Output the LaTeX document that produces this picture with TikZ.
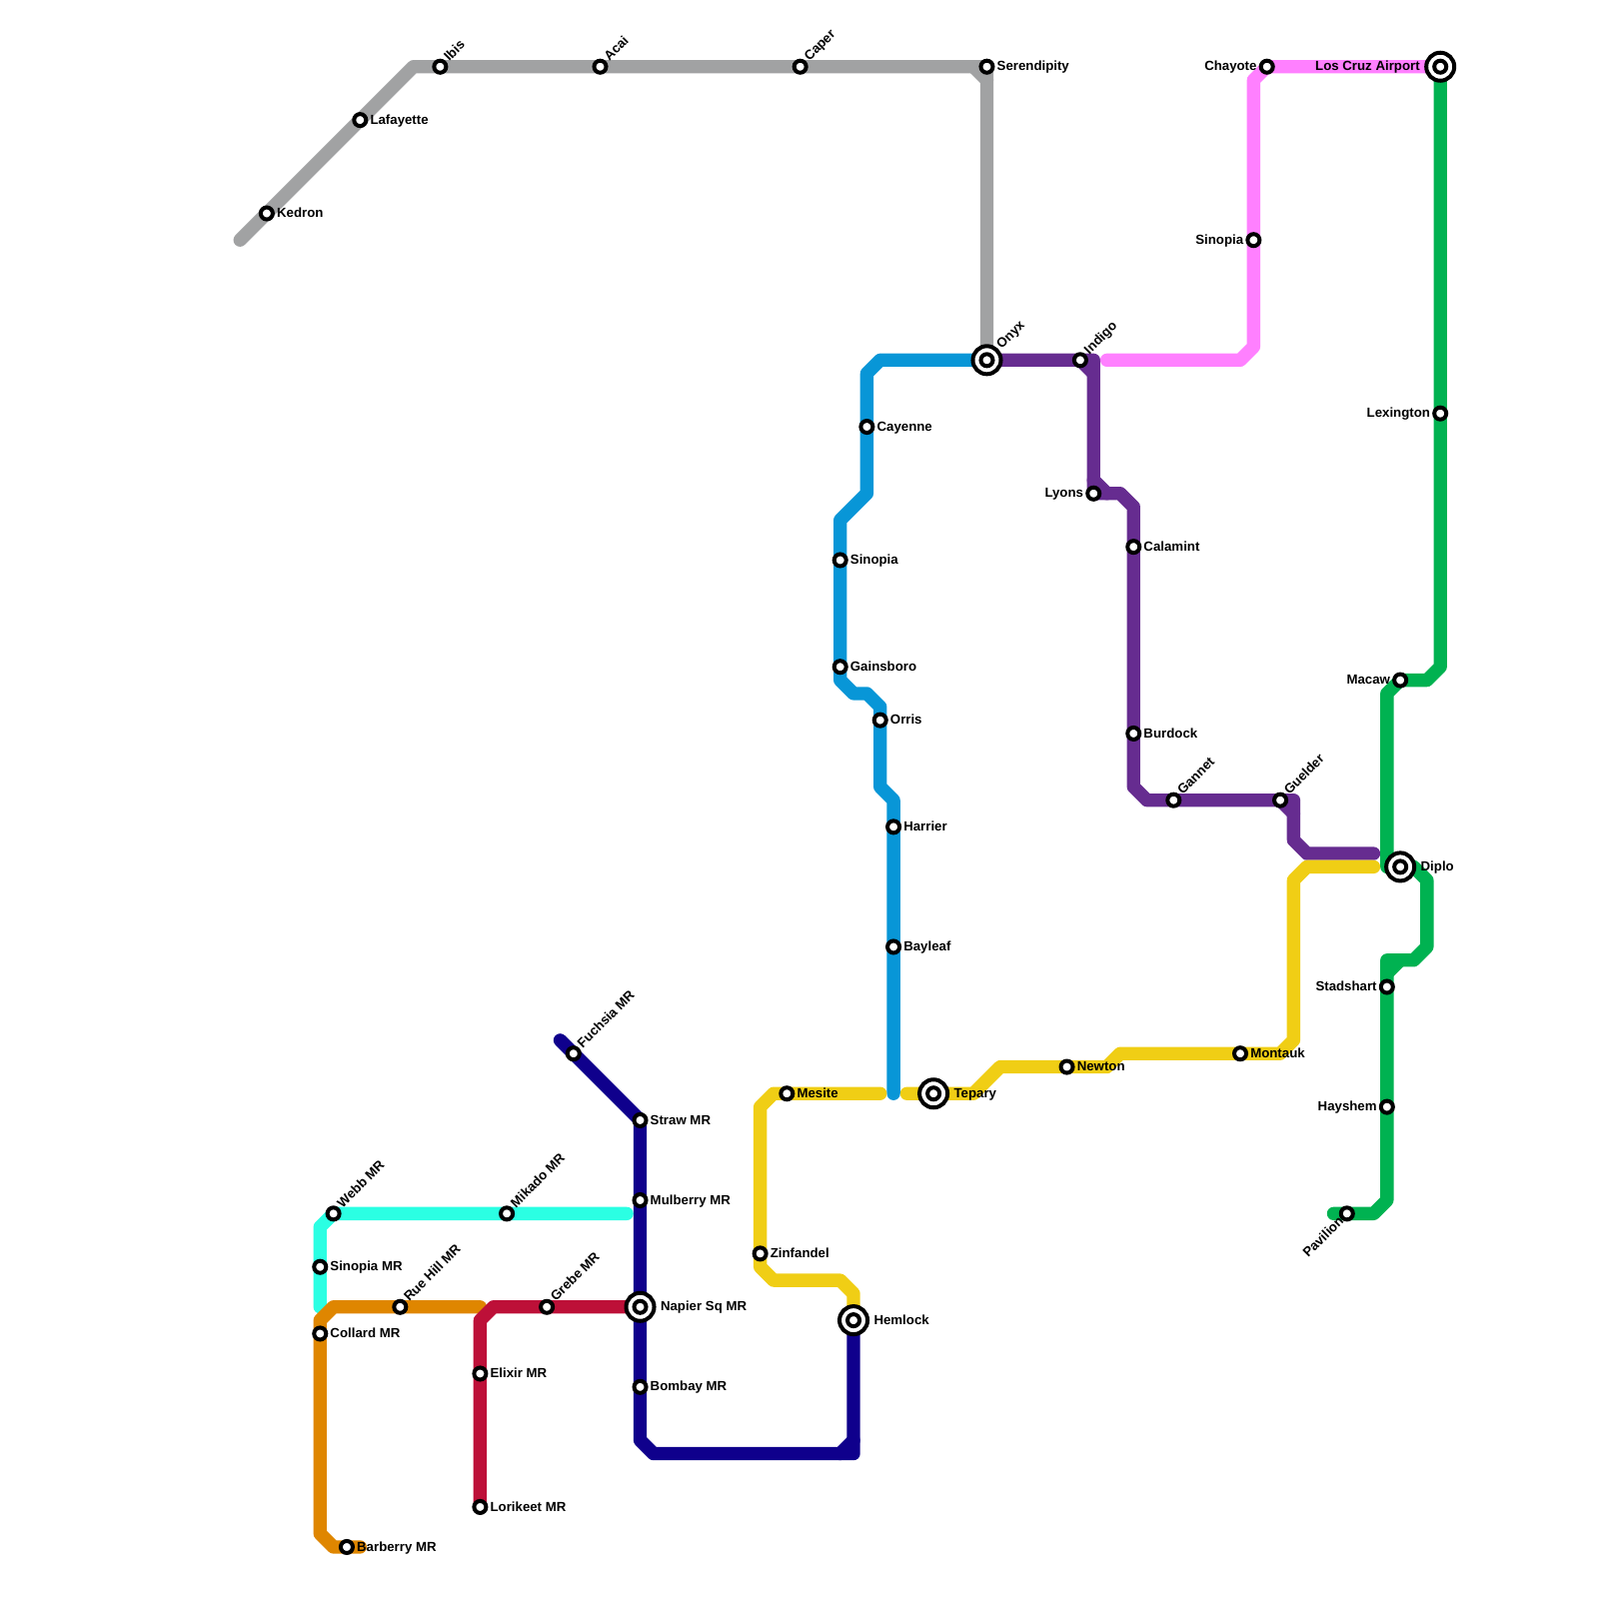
\documentclass[tikz,border=0pt]{standalone}
\usepackage{fontspec}
\setmainfont{Liberation Sans}
\usetikzlibrary{positioning}
\pgfdeclarelayer{lines}
\pgfsetlayers{lines,main}
\definecolor{greyline}{HTML}{A1A2A3}
\definecolor{blueline}{HTML}{0896D7}
\definecolor{purpleline}{HTML}{662C90}
\definecolor{pinkline}{HTML}{FF80FF}
\definecolor{greenline}{HTML}{00B251}
\definecolor{yellowline}{HTML}{F0CE15}
\definecolor{indigoline}{HTML}{0F008C}
\definecolor{cyanline}{HTML}{2BFFE3}
\definecolor{orangeline}{HTML}{DF8600}
\definecolor{redline}{HTML}{BD1038}

\begin{document}
\begin{tikzpicture}[x=2mm,y=-2mm,
    route/.style={line width=2mm,line cap=round,line join=round},
    station/.style={circle,draw=black,fill=white,line width=0.6mm,inner sep=0pt,minimum size=1.8mm},
    hub/.style={circle,draw=black,fill=white,line width=0.6mm,inner sep=0pt,minimum size=4.2mm},
    lbl/.style={font=\fontsize{5.65}{6}\selectfont\bfseries,inner sep=0pt,outer sep=0pt,text height=1.9mm,text depth=0.66mm},
    lblne/.style={lbl,xshift=0.55mm,yshift=-0.1mm,rotate=45,anchor=base west}]
  \useasboundingbox (0,0) rectangle (119.9,119.9);
  % grey
  \node[station] (kedron) at (20,16) {};
  \node[station] (lafayette) at (27,9) {};
  \node[station] (ibis) at (33,5) {};
  \node[station] (acai) at (45,5) {};
  \node[station] (caper) at (60,5) {};
  \node[station] (serendipity) at (74,5) {};
  \node[hub] (onyx) at (74,27) {};
  \node[station] (onyxc) at (onyx) {};
  % blue
  \node[station] (cayenne) at (65,32) {};
  \node[station] (sinopiab) at (63,42) {};
  \node[station] (gainsboro) at (63,50) {};
  \node[station] (orris) at (66,54) {};
  \node[station] (harrier) at (67,62) {};
  \node[station] (bayleaf) at (67,71) {};
  % purple
  \node[station] (indigo) at (81,27) {};
  \node[station] (lyons) at (82,37) {};
  \node[station] (calamint) at (85,41) {};
  \node[station] (burdock) at (85,55) {};
  \node[station] (gannet) at (88,60) {};
  \node[station] (guelder) at (96,60) {};
  % pink
  \node[station] (sinopiap) at (94,18) {};
  \node[station] (chayote) at (95,5) {};
  \node[hub] (loscruz) at (108,5) {};
  \node[station] (loscruzc) at (loscruz) {};
  % green
  \node[station] (lexington) at (108,31) {};
  \node[station] (macaw) at (105,51) {};
  \node[hub] (diplo) at (105,65) {};
  \node[station] (diploc) at (diplo) {};
  \node[station] (stadshart) at (104,74) {};
  \node[station] (hayshem) at (104,83) {};
  \node[station] (pavilion) at (101,91) {};
  % yellow
  \node[station] (mesite) at (59,82) {};
  \node[station] (zinfandel) at (57,94) {};
  \node[hub] (hemlock) at (64,99) {};
  \node[station] (hemlockc) at (hemlock) {};
  \node[hub] (tepary) at (70,82) {};
  \node[station] (teparyc) at (tepary) {};
  \node[station] (newton) at (80,80) {};
  \node[station] (montauk) at (93,79) {};
  % indigo
  \node[station] (fuchsia) at (43,79) {};
  \node[station] (straw) at (48,84) {};
  \node[station] (mulberry) at (48,90) {};
  \node[hub] (napier) at (48,98) {};
  \node[station] (napierc) at (napier) {};
  \node[station] (bombay) at (48,104) {};
  % cyan
  \node[station] (webb) at (25,91) {};
  \node[station] (sinopiam) at (24,95) {};
  \node[station] (mikado) at (38,91) {};
  % orange
  \node[station] (rue) at (30,98) {};
  \node[station] (collard) at (24,100) {};
  \node[station] (barberry) at (26,116) {};
  % red
  \node[station] (grebe) at (41,98) {};
  \node[station] (elixir) at (36,103) {};
  \node[station] (lorikeet) at (36,113) {};
  % free line ends
  \coordinate (greyend) at (18,18);
  \coordinate (blueend) at (67,82);
  \coordinate (purpleend) at (103,64);
  \coordinate (pinkend) at (83,27);
  \coordinate (greenend) at (100,91);
  \coordinate (yellowend) at (66,82);
  \coordinate (yellowstart) at (68,82);
  \coordinate (yellowtip) at (103,65);
  \coordinate (indigoend) at (42,78);
  \coordinate (cyanend) at (47,91);
  \coordinate (cyanstart) at (24,98);
  \coordinate (orangeend) at (36,98);
  \coordinate (orangetip) at (27,116);
  \begin{pgfonlayer}{lines}
    \draw[route,greyline] (greyend) -- (kedron.center) -- (lafayette.center) -- (31,5) -- (ibis.center) -- (acai.center) -- (caper.center) -- (serendipity.center) -- (onyx.center);
    \draw[route,greyline] (73,5) -- (74,6);
    \draw[route,blueline] (onyx.center) -- (66,27) -- (65,28) -- (cayenne.center) -- (65,37) -- (63,39) -- (sinopiab.center) -- (gainsboro.center) -- (63,51) -- (64,52) -- (65,52) -- (66,53) -- (orris.center) -- (66,59) -- (67,60) -- (harrier.center) -- (bayleaf.center) -- (blueend);
    \draw[route,purpleline] (onyx.center) -- (indigo.center) -- (82,27) -- (lyons.center) -- (84,37) -- (85,38) -- (calamint.center) -- (burdock.center) -- (85,59) -- (86,60) -- (gannet.center) -- (guelder.center) -- (97,60) -- (97,63) -- (98,64) -- (purpleend);
    \draw[route,purpleline] (indigo.center) -- (82,28);
    \draw[route,purpleline] (82,36) -- (83,37);
    \draw[route,purpleline] (guelder.center) -- (97,61);
    \draw[route,pinkline] (pinkend) -- (93,27) -- (94,26) -- (sinopiap.center) -- (94,6) -- (chayote.center) -- (loscruz.center);
    \draw[route,greenline] (loscruz.center) -- (lexington.center) -- (108,50) -- (107,51) -- (macaw.center) -- (104,52) -- (104,65) -- (diplo.center) -- (106,65) -- (107,66) -- (107,71) -- (106,72) -- (104,72) -- (stadshart.center) -- (hayshem.center) -- (104,90) -- (103,91) -- (pavilion.center) -- (greenend);
    \draw[route,greenline] (105,72) -- (104,73);
    \draw[route,yellowline] (hemlock.center) -- (64,97) -- (63,96) -- (58,96) -- (57,95) -- (zinfandel.center) -- (57,83) -- (58,82) -- (mesite.center) -- (yellowend);
    \draw[route,yellowline] (yellowstart) -- (tepary.center) -- (73,82) -- (75,80) -- (newton.center) -- (83,80) -- (84,79) -- (montauk.center) -- (96,79) -- (97,78) -- (97,66) -- (98,65) -- (yellowtip);
    \draw[route,indigoline] (indigoend) -- (fuchsia.center) -- (straw.center) -- (mulberry.center) -- (napier.center) -- (bombay.center) -- (48,108) -- (49,109) -- (64,109) -- (hemlock.center);
    \draw[route,indigoline] (63,109) -- (64,108);
    \draw[route,cyanline] (cyanstart) -- (sinopiam.center) -- (24,92) -- (webb.center) -- (mikado.center) -- (cyanend);
    \draw[route,orangeline] (orangeend) -- (rue.center) -- (25,98) -- (24,99) -- (collard.center) -- (24,115) -- (25,116) -- (barberry.center) -- (orangetip);
    \draw[route,redline] (lorikeet.center) -- (elixir.center) -- (36,99) -- (37,98) -- (grebe.center) -- (napier.center);
  \end{pgfonlayer}
  % labels
  \node[lbl,right=0.33mm of kedron] (kedronl) {Kedron};
  \node[lbl,right=0.33mm of lafayette] (lafayettel) {Lafayette};
  \node[lblne] (ibisl) at (ibis.45) {Ibis};
  \node[lblne] (acail) at (acai.45) {Acai};
  \node[lblne] (caperl) at (caper.45) {Caper};
  \node[lbl,right=0.33mm of serendipity] (serendipityl) {Serendipity};
  \node[lblne] (onyxl) at (onyx.45) {Onyx};
  \node[lbl,right=0.33mm of cayenne] (cayennel) {Cayenne};
  \node[lbl,right=0.33mm of sinopiab] (sinopiabl) {Sinopia};
  \node[lbl,right=0.33mm of gainsboro] (gainsborol) {Gainsboro};
  \node[lbl,right=0.33mm of orris] (orrisl) {Orris};
  \node[lbl,right=0.33mm of harrier] (harrierl) {Harrier};
  \node[lbl,right=0.33mm of bayleaf] (bayleafl) {Bayleaf};
  \node[lblne] (indigol) at (indigo.45) {Indigo};
  \node[lbl,left=0.33mm of lyons] (lyonsl) {Lyons};
  \node[lbl,right=0.33mm of calamint] (calamintl) {Calamint};
  \node[lbl,right=0.33mm of burdock] (burdockl) {Burdock};
  \node[lblne] (gannetl) at (gannet.45) {Gannet};
  \node[lblne] (guelderl) at (guelder.45) {Guelder};
  \node[lbl,left=0.33mm of sinopiap] (sinopiapl) {Sinopia};
  \node[lbl,left=0.33mm of chayote] (chayotel) {Chayote};
  \node[lbl,left=0.67mm of loscruz] (loscruzl) {Los Cruz Airport};
  \node[lbl,left=0.33mm of lexington] (lexingtonl) {Lexington};
  \node[lbl,left=0.33mm of macaw] (macawl) {Macaw};
  \node[lbl,right=0.67mm of diplo] (diplol) {Diplo};
  \node[lbl,left=0.33mm of stadshart] (stadshartl) {Stadshart};
  \node[lbl,left=0.33mm of hayshem] (hayshemt) {Hayshem};
  \node[lbl,rotate=45,anchor=east] (pavilionl) at (pavilion.225) {Pavilion};
  \node[lbl,right=0.33mm of mesite] (mesitel) {Mesite};
  \node[lbl,right=0.33mm of zinfandel] (zinfandell) {Zinfandel};
  \node[lbl,right=0.67mm of hemlock] (hemlockl) {Hemlock};
  \node[lbl,right=0.67mm of tepary] (teparyl) {Tepary};
  \node[lbl,right=0.33mm of newton] (newtonl) {Newton};
  \node[lbl,right=0.33mm of montauk] (montaukl) {Montauk};
  \node[lblne] (fuchsial) at (fuchsia.45) {Fuchsia MR};
  \node[lbl,right=0.33mm of straw] (strawl) {Straw MR};
  \node[lbl,right=0.33mm of mulberry] (mulberryl) {Mulberry MR};
  \node[lbl,right=0.67mm of napier] (napierl) {Napier Sq MR};
  \node[lbl,right=0.33mm of bombay] (bombayl) {Bombay MR};
  \node[lblne] (webbl) at (webb.45) {Webb MR};
  \node[lbl,right=0.33mm of sinopiam] (sinopiaml) {Sinopia MR};
  \node[lblne] (mikadol) at (mikado.45) {Mikado MR};
  \node[lblne] (ruel) at (rue.45) {Rue Hill MR};
  \node[lbl,right=0.33mm of collard] (collardl) {Collard MR};
  \node[lbl,right=0.33mm of barberry] (barberryl) {Barberry MR};
  \node[lblne] (grebel) at (grebe.45) {Grebe MR};
  \node[lbl,right=0.33mm of elixir] (elixirl) {Elixir MR};
  \node[lbl,right=0.33mm of lorikeet] (lorikeetl) {Lorikeet MR};
\end{tikzpicture}
\end{document}
